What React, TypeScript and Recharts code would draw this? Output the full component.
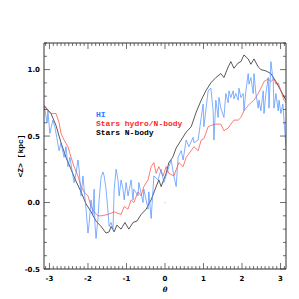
import React from "react"
import { LineChart, Line, XAxis, YAxis, ReferenceDot } from "recharts"

// theta (rad) vs mean height <Z> (kpc)
const hiTheta = [-3.14, -3.06, -3.04, -2.99, -2.91, -2.86, -2.81, -2.75, -2.7, -2.62, -2.57, -2.52, -2.47, -2.39, -2.36, -2.31, -2.26, -2.23, -2.18, -2.13, -2.1, -2.05, -2.0, -1.97, -1.92, -1.87, -1.84, -1.82, -1.79, -1.74, -1.71, -1.66, -1.61, -1.58, -1.53, -1.48, -1.45, -1.4, -1.35, -1.32, -1.27, -1.22, -1.19, -1.14, -1.09, -1.06, -1.01, -0.96, -0.88, -0.83, -0.81, -0.7, -0.68, -0.57, -0.55, -0.44, -0.42, -0.36, -0.31, -0.29, -0.18, -0.1, -0.03, 0.08, 0.16, 0.23, 0.29, 0.34, 0.42, 0.47, 0.55, 0.62, 0.73, 0.75, 0.86, 0.94, 0.99, 1.01, 1.12, 1.19, 1.25, 1.27, 1.32, 1.38, 1.4, 1.45, 1.53, 1.58, 1.64, 1.66, 1.71, 1.77, 1.79, 1.84, 1.9, 1.92, 1.97, 2.03, 2.05, 2.1, 2.16, 2.18, 2.23, 2.29, 2.31, 2.36, 2.42, 2.44, 2.49, 2.55, 2.57, 2.62, 2.68, 2.7, 2.75, 2.81, 2.83, 2.88, 2.94, 2.96, 3.01, 3.06, 3.09, 3.14]
const hiZ = [0.73, 0.6, 0.69, 0.52, 0.62, 0.57, 0.49, 0.39, 0.45, 0.34, 0.42, 0.27, 0.34, 0.2, 0.15, 0.22, 0.32, 0.25, 0.05, 0.2, 0.1, -0.05, -0.23, -0.16, 0.02, -0.09, 0.1, -0.16, -0.27, -0.12, 0.02, 0.19, 0.23, 0.2, 0.1, -0.07, -0.18, -0.15, -0.2, 0.1, 0.25, 0.17, 0.05, 0.17, 0.1, 0.02, 0.15, 0.05, 0.17, 0.02, 0.1, 0.05, 0.15, 0.0, 0.1, -0.05, 0.08, -0.12, 0.1, 0.2, 0.17, 0.25, 0.15, 0.25, 0.32, 0.2, 0.12, 0.34, 0.39, 0.32, 0.47, 0.42, 0.49, 0.45, 0.47, 0.64, 0.74, 0.57, 0.84, 0.86, 0.69, 0.47, 0.77, 0.64, 0.79, 0.71, 0.64, 0.82, 0.75, 0.84, 0.79, 0.84, 0.78, 0.82, 0.77, 0.86, 0.79, 0.82, 0.69, 0.84, 0.97, 0.89, 0.94, 0.82, 0.97, 0.82, 0.71, 0.77, 0.69, 0.84, 0.67, 0.82, 0.94, 0.71, 1.06, 0.91, 0.71, 0.82, 0.69, 0.77, 0.67, 0.74, 0.62, 0.42]

const hydroTheta = [-3.14, -3.04, -2.96, -2.83, -2.75, -2.7, -2.62, -2.52, -2.44, -2.36, -2.26, -2.18, -2.1, -2.0, -1.92, -1.84, -1.74, -1.66, -1.48, -1.32, -1.14, -1.06, -0.96, -0.88, -0.81, -0.7, -0.62, -0.55, -0.44, -0.36, -0.29, -0.23, -0.16, -0.05, 0.03, 0.1, 0.23, 0.36, 0.47, 0.55, 0.68, 0.75, 0.86, 0.94, 1.01, 1.12, 1.19, 1.32, 1.45, 1.53, 1.64, 1.71, 1.79, 1.9, 1.97, 2.05, 2.16, 2.23, 2.31, 2.42, 2.49, 2.57, 2.68, 2.75, 2.83, 2.88, 2.94, 3.01, 3.09, 3.14]
const hydroZ = [0.73, 0.69, 0.67, 0.67, 0.6, 0.52, 0.47, 0.42, 0.34, 0.27, 0.2, 0.12, 0.08, 0.05, -0.03, -0.07, -0.1, -0.1, -0.09, -0.07, -0.09, -0.03, -0.05, 0.02, 0.0, 0.08, 0.05, 0.12, 0.17, 0.27, 0.3, 0.22, 0.27, 0.2, 0.27, 0.22, 0.2, 0.3, 0.27, 0.34, 0.39, 0.42, 0.39, 0.47, 0.48, 0.57, 0.58, 0.59, 0.59, 0.54, 0.56, 0.59, 0.62, 0.62, 0.64, 0.69, 0.73, 0.75, 0.77, 0.82, 0.86, 0.91, 0.93, 0.91, 0.93, 0.89, 0.9, 0.84, 0.77, 0.75]

const nbodyTheta = [-3.14, -2.96, -2.83, -2.7, -2.57, -2.44, -2.31, -2.18, -2.05, -1.92, -1.79, -1.66, -1.53, -1.45, -1.4, -1.32, -1.25, -1.14, -1.04, -0.94, -0.83, -0.73, -0.62, -0.49, -0.36, -0.23, -0.16, -0.1, 0.03, 0.1, 0.2, 0.29, 0.42, 0.55, 0.68, 0.81, 0.94, 1.06, 1.19, 1.32, 1.45, 1.53, 1.64, 1.71, 1.79, 1.9, 1.97, 2.05, 2.16, 2.23, 2.31, 2.42, 2.49, 2.62, 2.75, 2.88, 3.01, 3.14]
const nbodyZ = [0.73, 0.67, 0.58, 0.45, 0.34, 0.25, 0.16, 0.08, -0.01, -0.07, -0.14, -0.18, -0.23, -0.22, -0.18, -0.22, -0.17, -0.2, -0.15, -0.2, -0.15, -0.14, -0.09, -0.05, 0.02, 0.12, 0.17, 0.12, 0.22, 0.3, 0.34, 0.41, 0.47, 0.53, 0.57, 0.68, 0.77, 0.84, 0.9, 0.94, 0.97, 0.94, 1.02, 1.06, 1.01, 1.05, 1.06, 1.11, 1.08, 1.04, 1.08, 1.02, 1.0, 0.99, 0.97, 0.91, 0.84, 0.77]

const xMajor = [-3, -2, -1, 0, 1, 2, 3]
const yMajor = [-0.5, 0, 0.5, 1]
const yLabels = ["-0.5", "0.0", "0.5", "1.0"]

const hi = hiTheta.map((t, i) => ({ t, z: hiZ[i] }))
const hydro = hydroTheta.map((t, i) => ({ t, z: hydroZ[i] }))
const nbody = nbodyTheta.map((t, i) => ({ t, z: nbodyZ[i] }))

const xTicks = Array.from({ length: 63 }, (_, i) => (i - 31) / 10)
const yTicks = Array.from({ length: 18 }, (_, i) => (i - 5) / 10)

const isMajorX = (v: number) => xMajor.some((m) => Math.abs(m - v) < 1e-6)
const isMajorY = (v: number) => yMajor.some((m) => Math.abs(m - v) < 1e-6)

const tickFont = { fontFamily: "DejaVu Sans", fontWeight: "bold" as const, fontSize: 7 }
const AX = "#333"

function BottomTick(props: any) {
  const { x, y, payload } = props
  const major = isMajorX(payload.value)
  return (
    <g>
      <line x1={x} x2={x} y1={y} y2={y - (major ? 6 : 3)} stroke={AX} strokeWidth={0.7} />
      {major && (
        <text x={x} y={y + 11.5} textAnchor="middle" fill="#000" {...tickFont}>
          {payload.value}
        </text>
      )}
    </g>
  )
}

function TopTick(props: any) {
  const { x, y, payload } = props
  const major = isMajorX(payload.value)
  return <line x1={x} x2={x} y1={y} y2={y + (major ? 6 : 3)} stroke={AX} strokeWidth={0.7} />
}

function LeftTick(props: any) {
  const { x, y, payload } = props
  const major = isMajorY(payload.value)
  const idx = yMajor.findIndex((m) => Math.abs(m - payload.value) < 1e-6)
  return (
    <g>
      <line x1={x} x2={x + (major ? 6 : 3)} y1={y} y2={y} stroke={AX} strokeWidth={0.7} />
      {major && (
        <text x={x - 4} y={y + 2.5} textAnchor="end" fill="#000" {...tickFont}>
          {yLabels[idx]}
        </text>
      )}
    </g>
  )
}

function RightTick(props: any) {
  const { x, y, payload } = props
  const major = isMajorY(payload.value)
  return <line x1={x} x2={x - (major ? 6 : 3)} y1={y} y2={y} stroke={AX} strokeWidth={0.7} />
}

const legendFont = {
  position: "absolute" as const,
  left: 96,
  fontFamily: "Liberation Mono",
  fontWeight: "bold" as const,
  fontSize: 8,
  lineHeight: "9px",
  whiteSpace: "nowrap" as const,
}

export default function App() {
  return (
    <div style={{ position: "absolute", left: 0, top: 0, width: 299, height: 299, background: "#fff" }}>
      <LineChart width={299} height={299} margin={{ top: 42, right: 12, bottom: 0, left: 0 }}>
        <XAxis
          dataKey="t"
          type="number"
          domain={[-Math.PI, Math.PI]}
          allowDataOverflow
          ticks={xTicks}
          interval={0}
          tickSize={0}
          tickMargin={0}
          height={30}
          stroke={AX}
          tick={<BottomTick />}
          label={{ value: "θ", position: "insideBottom", offset: 7, style: { fontFamily: "DejaVu Serif", fontStyle: "italic", fontWeight: "bold", fontSize: 7, fill: "#000" } }}
        />
        <XAxis
          xAxisId="top"
          orientation="top"
          dataKey="t"
          type="number"
          domain={[-Math.PI, Math.PI]}
          allowDataOverflow
          ticks={xTicks}
          interval={0}
          tickSize={0}
          tickMargin={0}
          height={1}
          stroke={AX}
          tick={<TopTick />}
        />
        <YAxis
          type="number"
          domain={[-0.5, 1.2]}
          allowDataOverflow
          ticks={yTicks}
          interval={0}
          tickSize={0}
          tickMargin={0}
          width={44}
          stroke={AX}
          tick={<LeftTick />}
          label={{ value: "<Z> [kpc]", angle: -90, position: "insideLeft", offset: 20, style: { textAnchor: "middle", fontFamily: "Liberation Mono", fontWeight: "bold", fontSize: 8, fill: "#000" } }}
        />
        <YAxis
          yAxisId="right"
          orientation="right"
          type="number"
          domain={[-0.5, 1.2]}
          allowDataOverflow
          ticks={yTicks}
          interval={0}
          tickSize={0}
          tickMargin={0}
          width={1}
          stroke={AX}
          tick={<RightTick />}
        />
        <ReferenceDot x={0} y={0} r={0.6} fill="#bbb" stroke="none" />
        {/* invisible series so the mirrored frame axes get drawn */}
        <Line data={nbody} dataKey="z" xAxisId="top" yAxisId="right" stroke="none" dot={false} legendType="none" isAnimationActive={false} />
        <Line data={nbody} dataKey="z" type="linear" stroke="#111" strokeWidth={0.7} dot={false} isAnimationActive={false} />
        <Line data={hydro} dataKey="z" type="linear" stroke="#ff4236" strokeWidth={0.7} dot={false} isAnimationActive={false} />
        <Line data={hi} dataKey="z" type="linear" stroke="#4a8cff" strokeWidth={0.7} dot={false} isAnimationActive={false} />
      </LineChart>
      <div style={{ ...legendFont, top: 110, color: "#2f7bff" }}>HI</div>
      <div style={{ ...legendFont, top: 119, color: "#ff2a1f" }}>Stars hydro/N-body</div>
      <div style={{ ...legendFont, top: 128, color: "#000" }}>Stars N-body</div>
    </div>
  )
}
